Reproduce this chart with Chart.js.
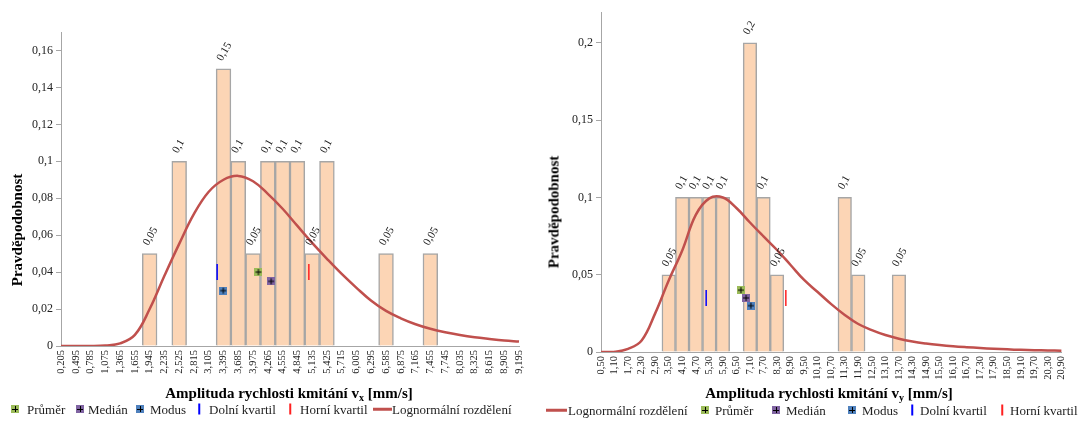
<!DOCTYPE html>
<html>
<head>
<meta charset="utf-8">
<script src="https://cdn.jsdelivr.net/npm/chart.js@4.4.1/dist/chart.umd.min.js"></script>
<style>
  html, body { margin: 0; padding: 0; background: #fff; }
  body { width: 1078px; height: 424px; overflow: hidden; position: relative;
         font-family: "Liberation Serif", "Times New Roman", serif; color: #000; }
  canvas { position: absolute; top: 0; }
  #chartX { left: 0; }
  #chartY { left: 540px; }
  .ytitle { position: absolute; font-weight: bold; font-size: 15px; white-space: nowrap;
            transform: translate(-50%, -50%) rotate(-90deg); }
  .xtitle { position: absolute; font-weight: bold; font-size: 15px; white-space: nowrap;
            transform: translate(-50%, -50%); }
  .xtitle sub { font-size: 10px; vertical-align: -3px; line-height: 0; }
  .lg { position: absolute; font-size: 13px; white-space: nowrap; color: #222;
        transform: translateY(-50%); line-height: 15px; }
  .sq { position: absolute; width: 8px; height: 8px; transform: translate(-50%, -50%); }
  .sq::before { content: ""; position: absolute; left: 3.5px; top: 1px; width: 1px; height: 6px; background: #000; }
  .sq::after  { content: ""; position: absolute; left: 1px; top: 3.5px; width: 6px; height: 1px; background: #000; }
  .vl { position: absolute; width: 1.5px; height: 11px; transform: translate(-50%, -50%); }
  .ln { position: absolute; height: 2.5px; background: #C0504D; transform: translateY(-50%); }
</style>
</head>
<body>
<canvas id="chartX" width="540" height="424"></canvas>
<canvas id="chartY" width="538" height="424"></canvas>

<div class="ytitle" style="left:17px;top:230px">Pravděpodobnost</div>
<div class="ytitle" style="left:554px;top:212px">Pravděpodobnost</div>
<div class="xtitle" style="left:289px;top:393px">Amplituda rychlosti kmitání v<sub>x</sub> [mm/s]</div>
<div class="xtitle" style="left:829px;top:393px">Amplituda rychlosti kmitání v<sub>y</sub> [mm/s]</div>

<!-- legend, left chart -->
<span class="sq" style="left:15px;top:409px;background:#9BBB59"></span>
<span class="lg" style="left:27px;top:409px">Průměr</span>
<span class="sq" style="left:80px;top:409px;background:#8064A2"></span>
<span class="lg" style="left:88px;top:409px">Medián</span>
<span class="sq" style="left:140px;top:409px;background:#4F81BD"></span>
<span class="lg" style="left:150px;top:409px">Modus</span>
<span class="vl" style="left:199px;top:409px;background:#0000FF"></span>
<span class="lg" style="left:209px;top:409px">Dolní kvartil</span>
<span class="vl" style="left:290px;top:409px;background:#FF2020"></span>
<span class="lg" style="left:300px;top:409px">Horní kvartil</span>
<span class="ln" style="left:373px;width:19px;top:409px"></span>
<span class="lg" style="left:392px;top:409px">Lognormální rozdělení</span>

<!-- legend, right chart -->
<span class="ln" style="left:546px;width:21px;top:410px"></span>
<span class="lg" style="left:568px;top:410px">Lognormální rozdělení</span>
<span class="sq" style="left:705px;top:410px;background:#9BBB59"></span>
<span class="lg" style="left:715px;top:410px">Průměr</span>
<span class="sq" style="left:776px;top:410px;background:#8064A2"></span>
<span class="lg" style="left:786px;top:410px">Medián</span>
<span class="sq" style="left:852px;top:410px;background:#4F81BD"></span>
<span class="lg" style="left:862px;top:410px">Modus</span>
<span class="vl" style="left:912px;top:410px;background:#0000FF"></span>
<span class="lg" style="left:920px;top:410px">Dolní kvartil</span>
<span class="vl" style="left:1002px;top:410px;background:#FF2020"></span>
<span class="lg" style="left:1010px;top:410px">Horní kvartil</span>

<script>
// ---- v_x : bin labels, bin probabilities, lognormal fit, statistics ----
const binsX = ['0,205','0,495','0,785','1,075','1,365','1,655','1,945','2,235','2,525','2,815','3,105',
  '3,395','3,685','3,975','4,265','4,555','4,845','5,135','5,425','5,715','6,005','6,295','6,585',
  '6,875','7,165','7,455','7,745','8,035','8,325','8,615','8,905','9,195'];
const probX = [null,null,null,null,null,null,0.05,null,0.1,null,null,
  0.15,0.1,0.05,0.1,0.1,0.1,0.05,0.1,null,null,null,0.05,
  null,null,0.05,null,null,null,null,null,null];
const lognormX = [0,0,0,0.0003,0.0014,0.006,0.020,0.038,0.0553,0.0715,0.0835,
  0.090,0.0921,0.0892,0.0824,0.0743,0.065,0.0558,0.0472,0.039,0.0315,0.0245,0.019,
  0.015,0.0118,0.0093,0.0074,0.0059,0.0047,0.0038,0.003,0.0024];
const meanX   = [4.08, 0.04];
const medianX = [4.33, 0.035];
const modeX   = [3.39, 0.03];
const lowerQX = [3.27, 0.04];
const upperQX = [5.07, 0.04];
const yTicksX = { max: 0.17, step: 0.02 };

// ---- v_y ----
const binsY = ['0,50','1,10','1,70','2,30','2,90','3,50','4,10','4,70','5,30','5,90','6,50','7,10',
  '7,70','8,30','8,90','9,50','10,10','10,70','11,30','11,90','12,50','13,10','13,70','14,30',
  '14,90','15,50','16,10','16,70','17,30','17,90','18,50','19,10','19,70','20,30','20,90'];
const probY = [null,null,null,null,null,0.05,0.1,0.1,0.1,0.1,null,0.2,
  0.1,0.05,null,null,null,null,0.1,0.05,null,null,0.05,null,
  null,null,null,null,null,null,null,null,null,null,null];
const lognormY = [0,0.0001,0.002,0.0074,0.025,0.0463,0.0657,0.0887,0.0994,0.1,0.0932,0.0838,
  0.0748,0.066,0.0563,0.0466,0.0388,0.031,0.024,0.0181,0.0142,0.011,0.0086,0.0068,
  0.0055,0.0045,0.0037,0.0031,0.0026,0.0021,0.0017,0.0014,0.0012,0.001,0.0008];
const meanY   = [6.70, 0.04];
const medianY = [6.93, 0.035];
const modeY   = [7.14, 0.03];
const lowerQY = [5.16, 0.035];
const upperQY = [8.69, 0.035];
const yTicksY = { max: 0.22, step: 0.05 };

const FONT = "'Liberation Serif', 'Times New Roman', serif";
const AXIS = '#A6A6A6';
const czech = v => String(parseFloat(Number(v).toFixed(4))).replace('.', ',');
const toNum = s => parseFloat(s.replace(',', '.'));

// square marker with a black cross
function squareMarker(color) {
  const c = document.createElement('canvas');
  c.width = 8; c.height = 8;
  const g = c.getContext('2d');
  g.fillStyle = color; g.fillRect(0, 0, 8, 8);
  g.fillStyle = '#000';
  g.fillRect(3.5, 1, 1, 6);
  g.fillRect(1, 3.5, 6, 1);
  return c;
}

// rotated value labels above the bars
const barValueLabels = {
  id: 'barValueLabels',
  afterDatasetsDraw(chart) {
    const ctx = chart.ctx;
    chart.data.datasets.forEach((ds, di) => {
      if (!ds.valueLabels) return;
      const meta = chart.getDatasetMeta(di);
      meta.data.forEach((el, i) => {
        const v = ds.data[i];
        if (v === null || v === undefined) return;
        ctx.save();
        ctx.translate(el.x - 4, el.y - 9);
        ctx.rotate(-Math.PI / 3);
        ctx.font = '11px ' + FONT;
        ctx.fillStyle = '#222';
        ctx.textAlign = 'left';
        ctx.textBaseline = 'middle';
        ctx.fillText(czech(v), 0, 0);
        ctx.restore();
      });
    });
  }
};

function statPoint(label, xy, style) {
  return Object.assign({
    type: 'scatter', label, data: [{ x: xy[0], y: xy[1] }],
    xAxisID: 'xv', yAxisID: 'y', order: 1
  }, style);
}

function histogram(id, o) {
  const nums = o.bins.map(toNum);
  return new Chart(document.getElementById(id), {
    type: 'bar',
    plugins: [barValueLabels],
    data: {
      labels: o.bins,
      datasets: [
        statPoint('Průměr', o.mean,   { pointStyle: squareMarker('#9BBB59'), pointRadius: 4 }),
        statPoint('Medián', o.median, { pointStyle: squareMarker('#8064A2'), pointRadius: 4 }),
        statPoint('Modus',  o.mode,   { pointStyle: squareMarker('#4F81BD'), pointRadius: 4 }),
        statPoint('Dolní kvartil', o.lowerQ, { pointStyle: 'line', pointRadius: 8, pointRotation: 90,
          pointBorderColor: '#0000FF', pointBorderWidth: 1.5 }),
        statPoint('Horní kvartil', o.upperQ, { pointStyle: 'line', pointRadius: 8, pointRotation: 90,
          pointBorderColor: '#FF2020', pointBorderWidth: 1.5 }),
        { type: 'line', label: 'Lognormální rozdělení', data: o.curve, xAxisID: 'x', yAxisID: 'y',
          borderColor: '#C0504D', borderWidth: 2.5, pointRadius: 0, fill: false,
          tension: 0.4, order: 2 },
        { type: 'bar', label: 'Pravděpodobnost', data: o.prob, xAxisID: 'x', yAxisID: 'y',
          backgroundColor: '#FCD5B5', borderColor: '#A6A6A6', borderWidth: 1.5,
          grouped: false, barPercentage: 1, categoryPercentage: 1, order: 3, valueLabels: true }
      ]
    },
    options: {
      responsive: false, animation: false, events: [],
      layout: { padding: o.pad },
      plugins: { legend: { display: false }, tooltip: { enabled: false } },
      scales: {
        x: {
          type: 'category', offset: false,
          grid: { display: true, drawOnChartArea: false, drawTicks: false, offset: false },
          border: { color: AXIS, width: 1 },
          ticks: { autoSkip: false, minRotation: 90, maxRotation: 90, padding: 4,
                   color: '#222', font: { family: FONT, size: 10.5 } },
          afterFit(s) { s.height = 30; }
        },
        // value axis for the statistics markers, spanning the same range as the bins
        xv: { type: 'linear', display: false, offset: false,
              min: nums[0], max: nums[nums.length - 1] },
        y: {
          min: 0, max: o.yTicks.max,
          grid: { drawOnChartArea: false, drawTicks: true, tickLength: 5, color: AXIS },
          border: { color: AXIS, width: 1 },
          ticks: { stepSize: o.yTicks.step, includeBounds: false, padding: 3,
                   color: '#222', font: { family: FONT, size: 12 }, callback: v => czech(v) },
          afterFit(s) { s.width = 61; }
        }
      }
    }
  });
}

histogram('chartX', { bins: binsX, prob: probX, curve: lognormX, mean: meanX, median: medianX,
  mode: modeX, lowerQ: lowerQX, upperQ: upperQX, yTicks: yTicksX,
  pad: { left: 0, right: 21, top: 32, bottom: 48 } });
histogram('chartY', { bins: binsY, prob: probY, curve: lognormY, mean: meanY, median: medianY,
  mode: modeY, lowerQ: lowerQY, upperQ: upperQY, yTicks: yTicksY,
  pad: { left: 0, right: 12, top: 12, bottom: 42 } });
</script>
</body>
</html>
